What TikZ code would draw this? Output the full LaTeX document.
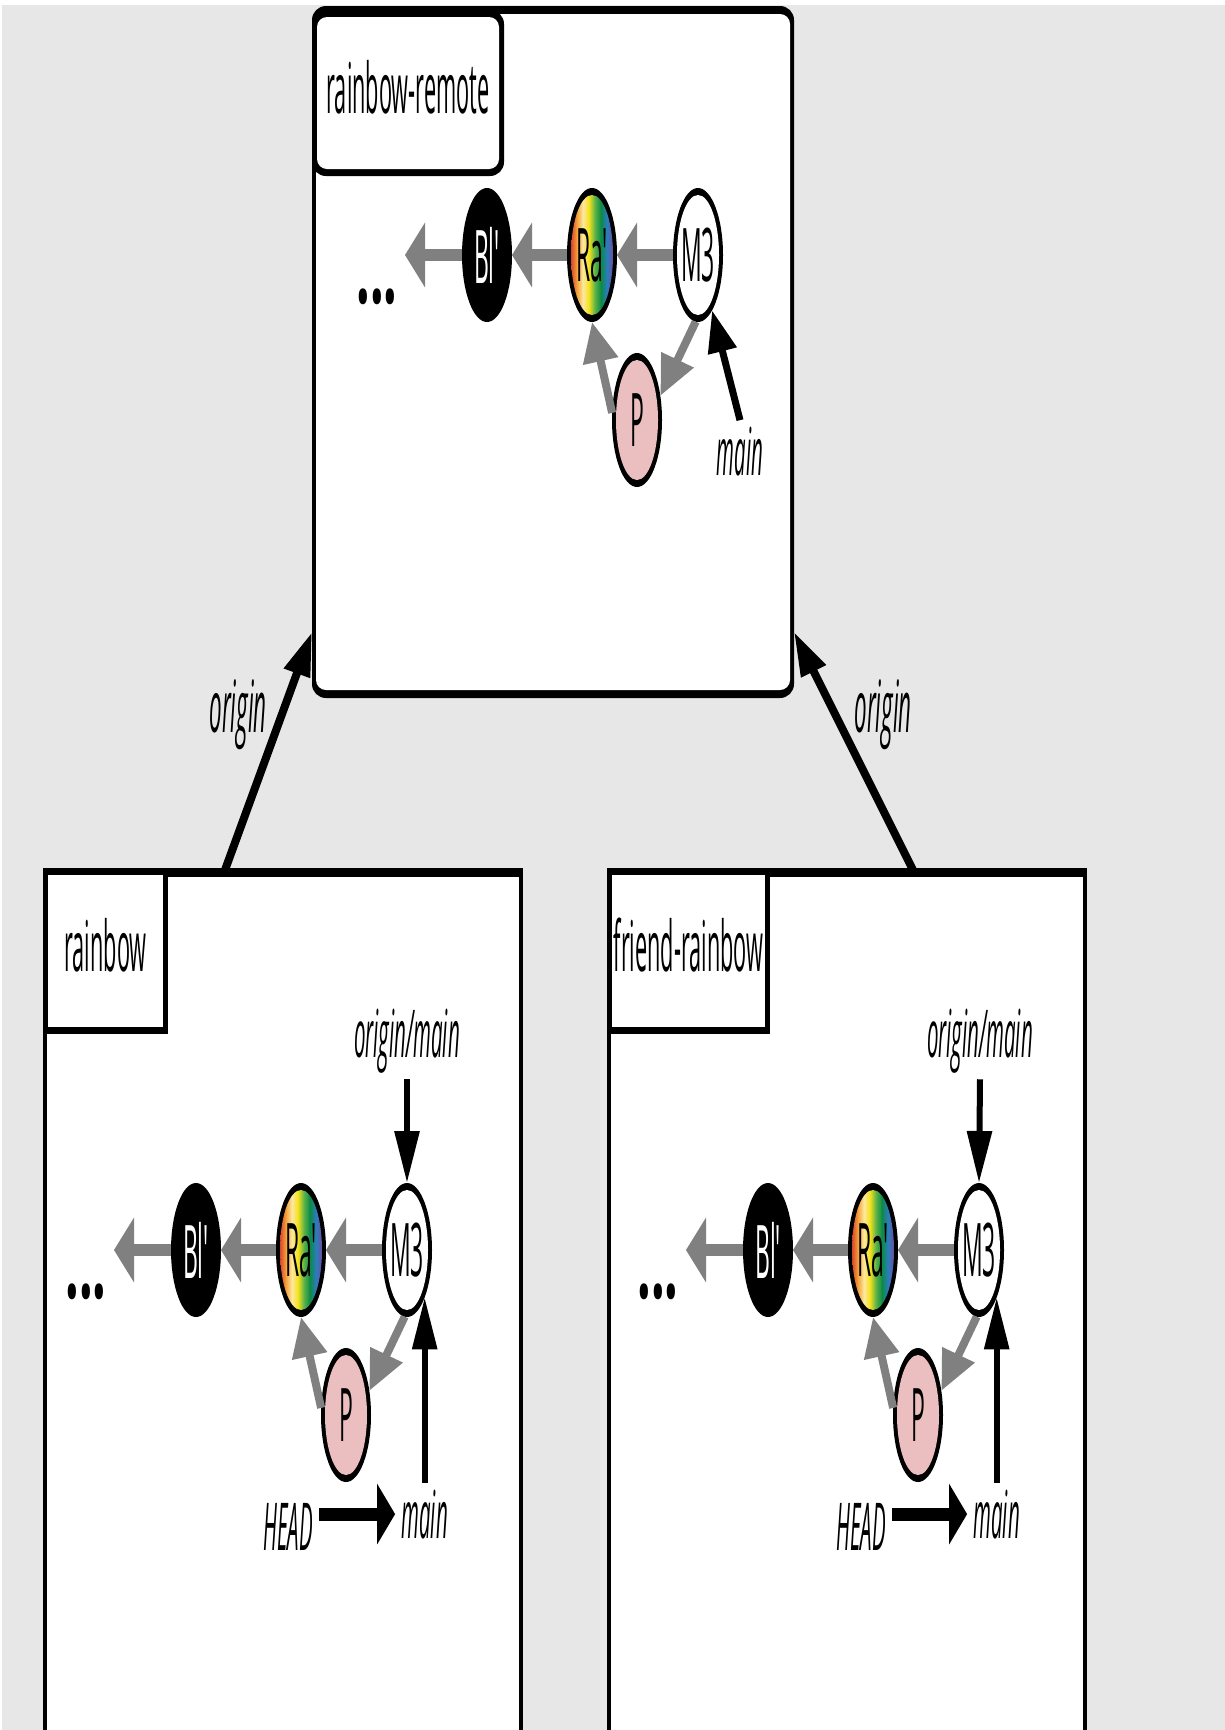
\documentclass[tikz,border=0pt]{standalone}
\usepackage{fontspec}
\usetikzlibrary{shapes.geometric,arrows.meta,calc}
\newfontfamily\lblfont{Open Sans}[FakeStretch=0.31,Ligatures=TeXOff]
\newfontfamily\dotfont{Open Sans}[FakeStretch=0.5,Ligatures=TeXOff]
\newcommand\LblFont{\lblfont\fontsize{35pt}{40pt}\selectfont}
\newcommand\ItFont{\lblfont\itshape\fontsize{33pt}{36pt}\selectfont}
\newcommand\OrFont{\lblfont\itshape\fontsize{36pt}{40pt}\selectfont}
\newcommand\ComFont{\lblfont\fontsize{37pt}{40pt}\selectfont}
\newcommand\DotFont{\dotfont\bfseries\fontsize{48pt}{50pt}\selectfont}
\definecolor{bgray}{HTML}{E7E7E7}
\definecolor{arrowgray}{HTML}{808080}
\definecolor{pinkfill}{HTML}{EBBFC0}
\definecolor{rbA}{HTML}{D9452B}
\definecolor{rbB}{HTML}{F5A33A}
\definecolor{rbC}{HTML}{FDE9A0}
\definecolor{rbD}{HTML}{F4E01A}
\definecolor{rbE}{HTML}{5BB348}
\definecolor{rbF}{HTML}{0C8A45}
\definecolor{rbG}{HTML}{2A7DBE}
\definecolor{rbH}{HTML}{6E4E9E}
\newcommand{\CommitRow}[3]{%
  \begin{scope}[shift={(#1,#2)}]
    \node[commit, blk] (Bl#3) at (0,0) {Bl'};
    \node[commit, rbw] (Ra#3) at (105,0) {Ra'};
    \node[commit, wht] (M#3) at (211,0) {M3};
    \node[commit, pnk] (P#3) at (150,165) {P};
    \node[dotslbl] (D#3) at (-110,42) {...};
    \coordinate (E#3) at (-82,0);
  \end{scope}
  \draw[garrow] (M#3.west) -- (Ra#3.east);
  \draw[garrow] (Ra#3.west) -- (Bl#3.east);
  \draw[garrow] (Bl#3.west) -- (E#3);
  \draw[gdiag] (M#3.-92) -- (P#3.46);
  \draw[gdiag] (P#3.164) -- (Ra#3.south);
}
\begin{document}
\begin{tikzpicture}[x=0.5pt,y=-0.5pt,
  commit/.style={ellipse, minimum width=25pt, minimum height=67pt, inner sep=0pt, outer sep=0pt, fill=black, font=\ComFont},
  blk/.style={text=white},
  wht/.style={path picture={\fill[white] (path picture bounding box.center) ellipse [x radius=10.5pt, y radius=30pt];}},
  pnk/.style={path picture={\fill[pinkfill] (path picture bounding box.center) ellipse [x radius=10.5pt, y radius=30pt];}},
  rbw/.style={path picture={%
    \begin{scope}
      \clip (path picture bounding box.center) ellipse [x radius=10.5pt, y radius=30pt];
      \foreach \ca/\cb [count=\i from 0] in {rbA/rbB, rbB/rbC, rbC/rbD, rbD/rbE, rbE/rbF, rbF/rbG, rbG/rbH}{
        \shade[left color=\ca, right color=\cb] ([xshift={-10.55pt+3pt*\i}, yshift=-31pt]path picture bounding box.center) rectangle ([xshift={-7.45pt+3pt*\i}, yshift=31pt]path picture bounding box.center);
      }
    \end{scope}}},
  dotslbl/.style={font=\DotFont, inner sep=0pt},
  sbox/.style={rectangle, fill=black, inner sep=0pt, outer sep=0pt,
    path picture={\fill[white, sharp corners] ([xshift=2pt,yshift=-4.5pt]path picture bounding box.north west) rectangle ([xshift=-2pt,yshift=4.5pt]path picture bounding box.south east);}},
  rbox/.style={rectangle, rounded corners=7pt, fill=black, inner sep=0pt, outer sep=0pt,
    path picture={\fill[white, rounded corners=5pt] ([xshift=2pt,yshift=-4pt]path picture bounding box.north west) rectangle ([xshift=-2pt,yshift=4pt]path picture bounding box.south east);}},
  lbox/.style={rectangle, fill=black, inner sep=0pt, outer sep=0pt, font=\LblFont, text height=26pt, text depth=6pt,
    path picture={\fill[white, sharp corners] ([xshift=2.5pt,yshift=-3.5pt]path picture bounding box.north west) rectangle ([xshift=-2.5pt,yshift=3.5pt]path picture bounding box.south east);}},
  lboxr/.style={rectangle, rounded corners=7pt, fill=black, inner sep=0pt, outer sep=0pt, font=\LblFont, text height=26pt, text depth=6pt,
    path picture={\fill[white, rounded corners=5pt] ([xshift=2.5pt,yshift=-3.5pt]path picture bounding box.north west) rectangle ([xshift=-2.5pt,yshift=3.5pt]path picture bounding box.south east);}},
  ilbl/.style={font=\ItFont, inner sep=3pt},
  olbl/.style={font=\OrFont, inner sep=3pt},
  garrow/.style={draw=arrowgray, line width=6pt, -{Triangle[length=10pt,width=32pt]}},
  gdiag/.style={draw=arrowgray, line width=4pt, -{Triangle[length=20pt,width=17pt]}},
  barrowv/.style={draw=black, line width=3pt, -{Triangle[length=26pt,width=12pt]}},
  barrowh/.style={draw=black, line width=6.5pt, -{Triangle[length=9pt,width=30pt]}},
  barrowt/.style={draw=black, line width=3.5pt, -{Triangle[length=21pt,width=14pt]}},
  oarrow/.style={draw=black, line width=4pt, -{Triangle[length=22pt,width=13pt]}}
]
\useasboundingbox (0,0) rectangle (1225,1730);
\clip (0,0) rectangle (1225,1730);
\fill[white] (0,0) rectangle (1225,1730);
\fill[bgray] (2,5) rectangle (1225,1730);

% containers
\node[rbox, minimum width=241pt, minimum height=346pt] (remote) at (553,352) {};
\node[lboxr, minimum width=96pt, minimum height=83pt] (remotelbl) at (408,93) {rainbow-remote};
\node[sbox, minimum width=240pt, minimum height=466pt] (rb) at (283,1334) {};
\node[lbox, minimum width=62.5pt, minimum height=83pt] (rblbl) at (105.5,951) {rainbow};
\node[sbox, minimum width=240pt, minimum height=466pt] (fb) at (847,1334) {};
\node[lbox, minimum width=81.5pt, minimum height=83pt] (fblbl) at (688.5,951) {friend-rainbow};

% commit graphs
\CommitRow{487}{255}{T}
\CommitRow{196}{1250}{L}
\CommitRow{768}{1250}{R}

% remote refs
\node[ilbl, anchor=base] (mainT) at (740,475) {main};
\draw[barrowt] (mainT.north) -- (MT);

% rainbow refs
\node[ilbl, anchor=base] (omL) at (407,1057) {origin/main};
\draw[barrowv] (omL.south) -- (ML.north);
\node[ilbl, anchor=base] (mainL) at (ML.south east |- 0,1538) {main};
\draw[barrowv] (mainL.north) -- (ML.south east);
\node[ilbl, anchor=base] (headL) at (288,1550) {HEAD};
\draw[barrowh] (headL.east |- mainL.west) -- (mainL.west);

% friend-rainbow refs
\node[ilbl, anchor=base] (omR) at (980,1057) {origin/main};
\draw[barrowv] (omR.south) -- (MR.north);
\node[ilbl, anchor=base] (mainR) at (MR.south east |- 0,1538) {main};
\draw[barrowv] (mainR.north) -- (MR.south east);
\node[ilbl, anchor=base] (headR) at (861,1550) {HEAD};
\draw[barrowh] (headR.east |- mainR.west) -- (mainR.west);

% origin remotes
\node[olbl, anchor=base] (oL) at (238,732) {origin};
\node[olbl, anchor=base] (oR) at (883,732) {origin};
\draw[oarrow] ($(rb.north west)+(182,2)$) -- ($(remote.south west)+(0,-66)$);
\draw[oarrow] ($(fb.north west)+(306,2)$) -- ($(remote.south east)+(0,-66)$);
\end{tikzpicture}
\end{document}
